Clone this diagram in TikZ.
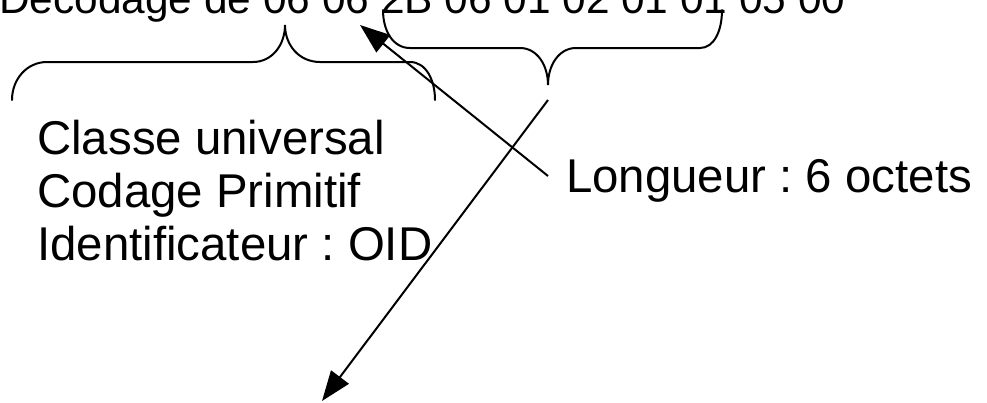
\documentclass[tikz,border=0pt]{standalone}
\usepackage{fontspec}
\setmainfont{Liberation Sans}
\usetikzlibrary{arrows.meta}
\frenchspacing
\begin{document}
\begin{tikzpicture}[x=1pt,y=-1pt,
  bracepath/.style={line width=2pt, line cap=round},
  pointer/.style={line width=2pt, -{Triangle[length=30pt,width=22pt]}},
  toptext/.style={anchor=base west, inner sep=0pt, font=\fontsize{42.4}{50}\selectfont},
  lbl/.style={anchor=base west, inner sep=0pt, font=\fontsize{47.4}{53}\selectfont}]
\useasboundingbox (0,0) rectangle (987,402);

% texts
\node[toptext] (top) at (-1,13) {Décodage de 06 06 2B 06 01 02 01 01 05 00};
\node[lbl] (cls1) at (37,154) {Classe universal};
\node[lbl] (cls2) at (37,207) {Codage Primitif};
\node[lbl] (cls3) at (37,260) {Identificateur : OID};
\node[lbl] (len) at (566,192) {Longueur : 6 octets};

% brace under "06 06" (cusp up)
\coordinate (b1) at (285,25);
\draw[bracepath] (12,100) .. controls (12,79) and (27,62) .. (47,62) -- (253,62)
  .. controls (272,62) and (285,45) .. (285,25)
  .. controls (285,45) and (299,62) .. (320,62) -- (410,62)
  .. controls (426,62) and (435,80) .. (435,100);

% brace under "2B 06 01 02 01 01" (cusp down)
\coordinate (b2) at (548,85);
\draw[bracepath] (383,10) .. controls (383,31) and (393,48) .. (410,48) -- (520,48)
  .. controls (537,48) and (548,65) .. (548,85)
  .. controls (548,65) and (559,48) .. (576,48) -- (700,48)
  .. controls (714,48) and (722,31) .. (722,10);

% connectors
\coordinate (lenstart) at (548,176);
\coordinate (lentip) at (360,25);
\draw[pointer] (lenstart) -- (lentip);

\coordinate (b2start) at (548,100);
\coordinate (down) at (322,401);
\draw[pointer] (b2start) -- (down);
\end{tikzpicture}
\end{document}
